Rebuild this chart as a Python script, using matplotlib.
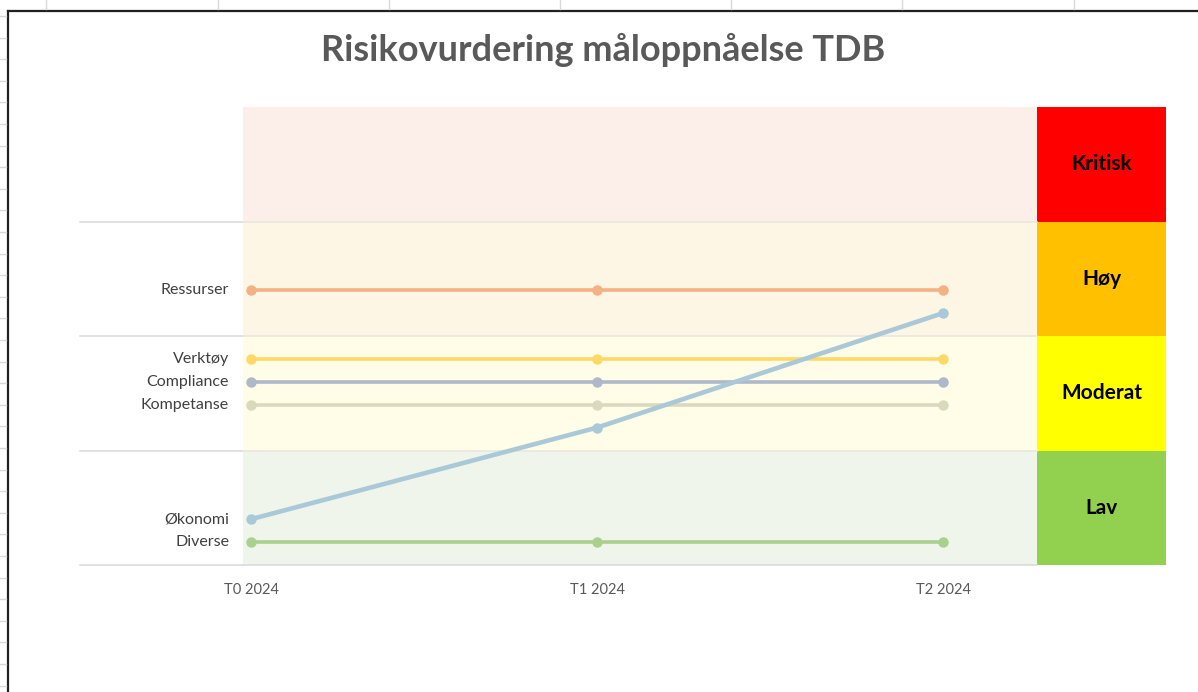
import matplotlib.pyplot as plt
from matplotlib.lines import Line2D

# periods on the x axis
periods = ['T0 2024', 'T1 2024', 'T2 2024']

# risk series (0-1 Lav, 1-2 Moderat, 2-3 Høy, 3-4 Kritisk)
series_names = ['Ressurser', 'Verktøy', 'Compliance', 'Kompetanse', 'Diverse', 'Økonomi']
series_values = [
    [2.4, 2.4, 2.4],
    [1.8, 1.8, 1.8],
    [1.6, 1.6, 1.6],
    [1.4, 1.4, 1.4],
    [0.2, 0.2, 0.2],
    [0.4, 1.2, 2.2],
]
series_colors = ['#F4B183', '#FFD966', '#ADB9CA', '#D9D9BE', '#A9D18E', '#A9C9D8']

# risk levels
levels = ['Lav', 'Moderat', 'Høy', 'Kritisk']
level_bottoms = [0, 1, 2, 3]
level_colors = ['#92D050', '#FFFF00', '#FFC000', '#FF0000']
band_colors = ['#EFF5EA', '#FFFDE7', '#FEF6E4', '#FCEEE8']

W, H = 1198, 692
fig = plt.figure(figsize=(W / 100, H / 100), dpi=100)
plt.rcParams['font.family'] = ['Lato', 'DejaVu Sans']

# plot area in pixels
left, right, top, bottom = 80, 1166, 107, 565
ax = fig.add_axes([left / W, 1 - bottom / H, (right - left) / W, (bottom - top) / H])

x_per_px = 1 / 346.0
xmin = (left - 251) * x_per_px
xmax = (right - 251) * x_per_px
band_l = (243 - 251) * x_per_px
band_r = (1037 - 251) * x_per_px
ax.set_xlim(xmin, xmax)
ax.set_ylim(0, 4)

# background bands and level column
ax.barh([b + 0.5 for b in level_bottoms], band_r - band_l, left=band_l, height=1,
        color=band_colors, zorder=1)
ax.barh([b + 0.5 for b in level_bottoms], xmax - band_r, left=band_r, height=1,
        color=level_colors, zorder=1)
for b, name in zip(level_bottoms, levels):
    ax.text((band_r + xmax) / 2, b + 0.5, name, ha='center', va='center',
            fontsize=15, fontweight='bold', color='black', zorder=5)

# grid lines
for g in [0, 1, 2, 3]:
    ax.plot([xmin, band_l], [g, g], color='#D9D9D9', lw=1.1, zorder=2, clip_on=False)
    ax.plot([band_l, band_r], [g, g], color='#E9E5DF' if g else '#D9D9D9', lw=1.1, zorder=2,
            clip_on=False)

xs = list(range(len(periods)))
for name, vals, col in zip(series_names, series_values, series_colors):
    lw = 3.3 if name == 'Økonomi' else 2.6
    ax.plot(xs, vals, color=col, lw=lw, marker='o', markersize=6.5,
            solid_capstyle='round', zorder=4 if name == 'Økonomi' else 3)
    ax.text(-22 * x_per_px, vals[0], name, ha='right', va='center',
            fontsize=11.5, color='#404040', zorder=5)

ax.set_xticks(xs)
ax.set_xticklabels(periods, fontsize=10.5, color='#595959')
ax.set_yticks([])
ax.tick_params(axis='x', length=0, pad=13)
for s in ax.spines.values():
    s.set_visible(False)

fig.text(603 / W, 1 - 50 / H, 'Risikovurdering måloppnåelse TDB', ha='center', va='center',
         fontsize=26, fontweight='bold', color='#595959')

# chart frame and spreadsheet grid around it
fig.add_artist(Line2D([7.5 / W, 7.5 / W], [0, 1 - 10.5 / H], color='#202020', lw=1.6))
fig.add_artist(Line2D([7.5 / W, 1], [1 - 10.5 / H, 1 - 10.5 / H], color='#202020', lw=1.6))
for gx in [46, 218, 389, 560, 731, 902, 1074]:
    fig.add_artist(Line2D([gx / W, gx / W], [1 - 9 / H, 1], color='#D9D9D9', lw=1))
gy = 16.0
while gy < H:
    fig.add_artist(Line2D([0, 6 / W], [1 - gy / H, 1 - gy / H], color='#D9D9D9', lw=1))
    gy += 21.6

fig.savefig('out.png', dpi=100)
